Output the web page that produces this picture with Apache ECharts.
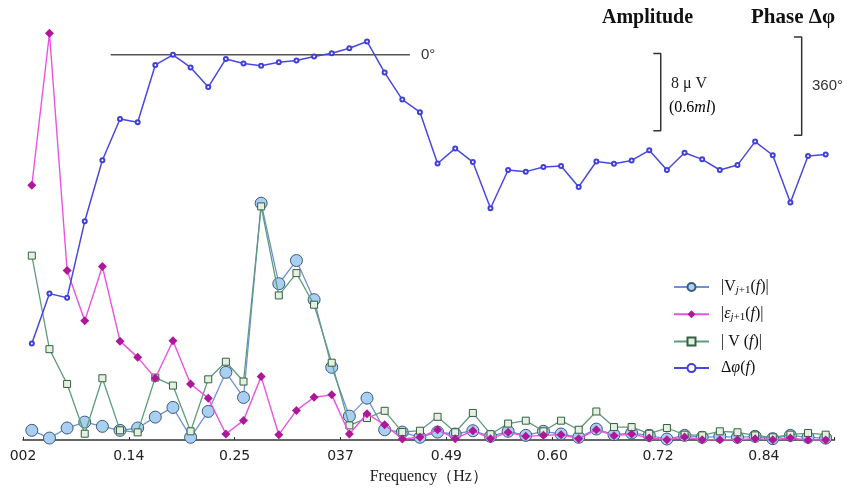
<!DOCTYPE html>
<html>
<head>
<meta charset="utf-8">
<script src="https://cdn.jsdelivr.net/npm/echarts@6/dist/echarts.min.js"></script>
<style>
  html, body { margin: 0; padding: 0; background: #ffffff; }
  #chart { width: 853px; height: 490px; }
</style>
</head>
<body>
<div id="chart"></div>
<script>
// Frequency bins (Hz), resolution 1/51.2 Hz
const freqHz = [
  0.020, 0.039, 0.059, 0.078, 0.098, 0.117, 0.137, 0.156, 0.176, 0.195,
  0.215, 0.234, 0.254, 0.273, 0.293, 0.313, 0.332, 0.352, 0.371, 0.391,
  0.410, 0.430, 0.449, 0.469, 0.488, 0.508, 0.527, 0.547, 0.566, 0.586,
  0.605, 0.625, 0.645, 0.664, 0.684, 0.703, 0.723, 0.742, 0.762, 0.781,
  0.801, 0.820, 0.840, 0.859, 0.879, 0.898
];

// Tick labels under the frequency axis, one every six bins
const freqTickLabels = ['002', '0.14', '0.25', '037', '0.49', '0.60', '0.72', '0.84'];

// |V_{j+1}(f)| amplitude (µV)
const ampVnext = [
  1.00, 0.20, 1.24, 1.85, 1.41, 1.00, 1.24, 2.37, 3.37, 0.28,
  2.96, 7.00, 4.40, 24.50, 16.17, 18.57, 14.52, 7.52, 2.47, 4.33,
  1.06, 0.82, 0.28, 0.82, 0.62, 0.96, 0.38, 0.90, 0.48, 0.90,
  0.62, 0.28, 1.13, 0.55, 0.72, 0.48, 0.10, 0.48, 0.28, 0.38,
  0.28, 0.38, 0.14, 0.48, 0.28, 0.20
];

// |ε_{j+1}(f)| residual amplitude (µV)
const ampEps = [
  26.36, 42.09, 17.54, 12.33, 17.95, 10.23, 8.55, 6.39, 10.27, 5.80,
  4.33, 0.62, 2.03, 6.56, 0.55, 3.06, 4.43, 4.67, 0.62, 2.71,
  1.58, 0.10, 0.28, 1.06, 0.14, 0.96, 0.14, 0.79, 0.38, 0.48,
  0.55, 0.14, 1.06, 0.45, 0.62, 0.20, 0.03, 0.31, 0.03, 0.03,
  0.03, 0.14, 0.03, 0.20, 0.00, 0.00
];

// |V(f)| amplitude (µV)
const ampV = [
  19.08, 9.40, 5.80, 0.65, 6.39, 1.00, 0.79, 6.46, 5.63, 0.90,
  6.28, 8.10, 6.05, 24.17, 14.96, 17.27, 14.00, 8.00, 1.51, 2.27,
  3.02, 0.82, 0.96, 2.40, 0.80, 2.80, 0.60, 1.70, 2.00, 0.90,
  2.00, 1.06, 2.95, 1.34, 1.34, 0.65, 1.24, 0.55, 0.48, 0.90,
  0.80, 0.48, 0.28, 0.55, 0.72, 0.55
];

// Δφ(f) phase difference (degrees, unwrapped)
const phaseDeg = [
  -1058, -875, -890, -610, -386, -235, -247, -37, 0, -46,
  -118, -15, -32, -40, -27, -21, -6, 6, 24, 49,
  -65, -164, -210, -398, -343, -393, -562, -422, -428, -411,
  -407, -484, -391, -399, -387, -350, -422, -359, -383, -422,
  -404, -318, -368, -541, -371, -365
];

// Scale bar spans
const ampScaleBar = 8;     // µV
const phaseScaleBar = 360; // degrees

const serif = '"Liberation Serif", "DejaVu Serif", serif';
const sans = '"DejaVu Sans", "Liberation Sans", sans-serif';
const arial = '"Liberation Sans", Arial, sans-serif';

const legendRich = {
  n: { fontFamily: serif, fontSize: 16, color: '#111' },
  i: { fontFamily: serif, fontSize: 16, fontStyle: 'italic', color: '#111' },
  s: { fontFamily: serif, fontSize: 11, color: '#111', padding: [6, 0, 0, 0] },
  si: { fontFamily: serif, fontSize: 11, fontStyle: 'italic', color: '#111', padding: [6, 0, 0, 0] }
};
const legendText = {
  'Vnext': '{n||V}{si|j}{s|+1}{n|(}{i|f}{n|)|}',
  'Eps': '{n||}{i|ε}{si|j}{s|+1}{n|(}{i|f}{n|)|}',
  'V': '{n|| V (}{i|f}{n|)|}',
  'Phase': '{n|Δ}{i|φ}{n|(}{i|f}{n|)}'
};

const chart = echarts.init(document.getElementById('chart'), null, { renderer: 'canvas' });

const bracketStyle = { color: '#333', width: 1.5 };
const ampTop = 40, phaseTop = 65;

chart.setOption({
  backgroundColor: '#ffffff',
  animation: false,
  grid: { left: 23, right: 18.5, top: 20, bottom: 48, containLabel: false },
  legend: {
    orient: 'vertical',
    left: 668,
    top: 274,
    itemWidth: 35,
    itemHeight: 10,
    itemGap: 10.7,
    data: ['Vnext', 'Eps', 'V', 'Phase'],
    formatter: name => legendText[name],
    textStyle: { rich: legendRich, padding: [0, 0, 0, 7] }
  },
  xAxis: [
    {
      type: 'category',
      data: freqHz.map(f => f.toFixed(3)),
      boundaryGap: true,
      position: 'bottom',
      show: false
    },
    {
      type: 'value',
      min: 0,
      max: 46,
      interval: 6,
      position: 'bottom',
      name: 'Frequency（Hz）',
      nameLocation: 'middle',
      nameGap: 29,
      nameTextStyle: { fontFamily: serif, fontSize: 16, color: '#222' },
      axisLine: { show: true, onZero: false, lineStyle: { color: '#333', width: 1.5 } },
      axisTick: { show: true, inside: true, length: 3, lineStyle: { color: '#333' } },
      axisLabel: {
        margin: 9,
        fontFamily: sans,
        fontSize: 14,
        color: '#222',
        formatter: v => freqTickLabels[Math.round(v / 6)] || ''
      },
      splitLine: { show: false }
    }
  ],
  yAxis: [
    { type: 'value', min: 0, max: 43.46, show: false, splitLine: { show: false } },
    { type: 'value', min: -1411.5, max: 127.7, show: false, splitLine: { show: false } }
  ],
  series: [
    {
      name: 'Vnext', type: 'line', xAxisIndex: 0, yAxisIndex: 0,
      data: ampVnext,
      showAllSymbol: true,
      symbol: 'circle', symbolSize: 12,
      lineStyle: { color: '#6f8fd6', width: 1.3 },
      itemStyle: { color: '#a9d0f3', borderColor: '#3d5a78', borderWidth: 1 },
      z: 2
    },
    {
      name: 'V', type: 'line', xAxisIndex: 0, yAxisIndex: 0,
      data: ampV,
      showAllSymbol: true,
      symbol: 'rect', symbolSize: 7,
      lineStyle: { color: '#5e9c7c', width: 1.3 },
      itemStyle: { color: '#e4f0e0', borderColor: '#355f42', borderWidth: 1 },
      z: 3
    },
    {
      name: 'Eps', type: 'line', xAxisIndex: 0, yAxisIndex: 0,
      data: ampEps,
      showAllSymbol: true,
      symbol: 'diamond', symbolSize: 9,
      lineStyle: { color: '#ec52e2', width: 1.4 },
      itemStyle: { color: '#ae1898', borderColor: '#ae1898', borderWidth: 0 },
      z: 4
    },
    {
      name: 'Phase', type: 'line', xAxisIndex: 0, yAxisIndex: 1,
      data: phaseDeg,
      showAllSymbol: true,
      symbol: 'emptyCircle', symbolSize: 4,
      lineStyle: { color: '#4848e0', width: 1.5 },
      itemStyle: { color: '#4040d8', borderColor: '#4040d8', borderWidth: 1 },
      z: 5
    },
    // 0° reference line for the phase curve
    {
      name: 'zero', type: 'line', xAxisIndex: 1, yAxisIndex: 1,
      data: [[4.97, 0], [21.93, 0]],
      symbol: 'none', silent: true,
      lineStyle: { color: '#555', width: 1.5 },
      z: 1
    },
    // Amplitude scale bar (8 µV)
    {
      name: 'ampBar', type: 'line', xAxisIndex: 1, yAxisIndex: 0,
      data: [[35.73, ampTop], [36.15, ampTop], [36.15, ampTop - ampScaleBar], [35.73, ampTop - ampScaleBar]],
      symbol: 'none', silent: true,
      lineStyle: bracketStyle
    },
    // Phase scale bar (360°)
    {
      name: 'phaseBar', type: 'line', xAxisIndex: 1, yAxisIndex: 1,
      data: [[43.70, phaseTop], [44.14, phaseTop], [44.14, phaseTop - phaseScaleBar], [43.70, phaseTop - phaseScaleBar]],
      symbol: 'none', silent: true,
      lineStyle: bracketStyle
    }
  ],
  graphic: [
    { type: 'text', left: 602, top: 8, style: { text: 'Amplitude', font: 'bold 20px ' + serif, fill: '#111' } },
    { type: 'text', left: 751, top: 7, style: { text: 'Phase Δφ', font: 'bold 21px ' + serif, fill: '#111' } },
    { type: 'text', left: 671, top: 76, style: { text: '8 μ V', font: '16px ' + serif, fill: '#222' } },
    {
      type: 'text', left: 669, top: 100,
      style: {
        text: '{a|(0.6}{b|ml}{a|)}',
        rich: {
          a: { fontFamily: serif, fontSize: 16, color: '#222' },
          b: { fontFamily: serif, fontSize: 16, fontStyle: 'italic', color: '#222' }
        }
      }
    },
    { type: 'text', left: 812, top: 78, style: { text: '360°', font: '15px ' + arial, fill: '#333' } },
    { type: 'text', left: 421, top: 47, style: { text: '0°', font: '15px ' + arial, fill: '#333' } }
  ]
});
</script>
</body>
</html>
